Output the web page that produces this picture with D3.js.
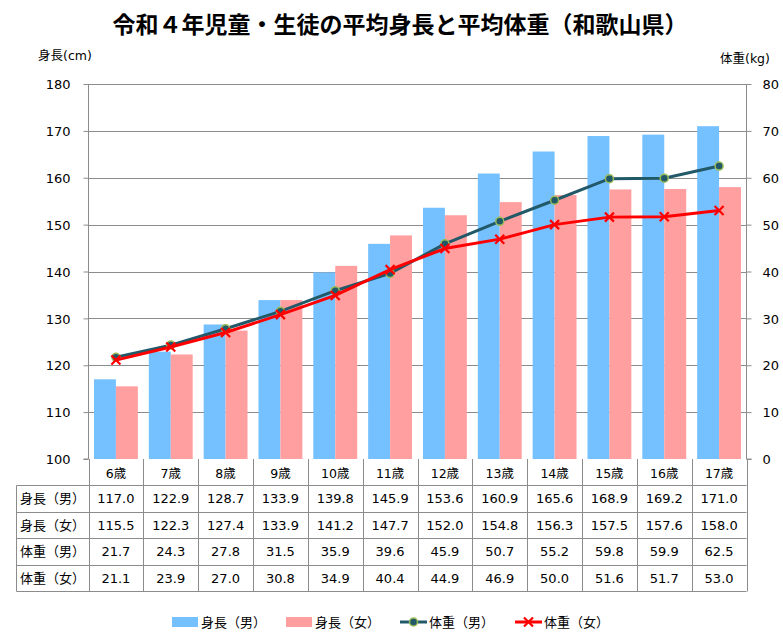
<!DOCTYPE html>
<html><head><meta charset="utf-8">
<script src="https://d3js.org/d3.v7.min.js"></script>
<style>
body{margin:0;background:#fff;}
svg{display:block;}
text{font-family:"DejaVu Sans","Noto Sans CJK JP",sans-serif;fill:#000;}
.jp{font-family:"Noto Sans CJK JP",sans-serif;}
</style></head><body>
<svg id="c" width="783" height="635"></svg>
<script>
const categories = ["6歳","7歳","8歳","9歳","10歳","11歳","12歳","13歳","14歳","15歳","16歳","17歳"];
const heightBoys  = [117.0,122.9,128.7,133.9,139.8,145.9,153.6,160.9,165.6,168.9,169.2,171.0];
const heightGirls = [115.5,122.3,127.4,133.9,141.2,147.7,152.0,154.8,156.3,157.5,157.6,158.0];
const weightBoys  = [21.7,24.3,27.8,31.5,35.9,39.6,45.9,50.7,55.2,59.8,59.9,62.5];
const weightGirls = [21.1,23.9,27.0,30.8,34.9,40.4,44.9,46.9,50.0,51.6,51.7,53.0];
const leftTicks = [100,110,120,130,140,150,160,170,180];
const rightTicks = [0,10,20,30,40,50,60,70,80];
const seriesNames = ["身長（男）","身長（女）","体重（男）","体重（女）"];
const title = "令和４年児童・生徒の平均身長と平均体重（和歌山県）";

const C = {blue:"#75C1FF", pink:"#FF9F9F", teal:"#215968", tealStroke:"#9BBB59", red:"#FF0000", grid:"#8C8C8C"};
const svg = d3.select("#c");
const L=88.5, R=746.5, T=84, B=459;

const x = d3.scaleBand().domain(categories).range([L,R]).paddingInner(0).paddingOuter(0);
const xs = d3.scaleBand().domain([0,1]).range([0,x.bandwidth()]).paddingInner(0).paddingOuter(0.25);
const yL = d3.scaleLinear().domain([100,180]).range([B,T]);
const yR = d3.scaleLinear().domain([0,80]).range([B,T]);

// title
svg.append("text").attr("class","jp").attr("x",400).attr("y",33).attr("text-anchor","middle")
  .style("font-size","23px").style("font-weight","bold").text(title);
svg.append("text").attr("x",38).attr("y",60).style("font-size","12.5px").text("身長(cm)");
svg.append("text").attr("x",720).attr("y",63).style("font-size","12.5px").text("体重(kg)");

// gridlines
svg.append("g").selectAll("line").data(leftTicks.slice(1)).join("line")
  .attr("x1",L).attr("x2",R).attr("y1",d=>Math.round(yL(d))+0.5).attr("y2",d=>Math.round(yL(d))+0.5)
  .attr("stroke",C.grid).attr("stroke-width",1);

// bars
const seriesBars=[heightBoys,heightGirls];
const barColors=[C.blue,C.pink];
seriesBars.forEach((s,i)=>{
  svg.append("g").selectAll("rect").data(s).join("rect")
    .attr("x",(d,j)=>x(categories[j])+xs(i)).attr("width",xs.bandwidth())
    .attr("y",d=>yL(d)).attr("height",d=>B-yL(d)).attr("fill",barColors[i]);
});

// axes
const axL = d3.axisLeft(yL).tickValues(leftTicks).tickSize(5).tickPadding(13).tickFormat(d3.format("d"));
const gL = svg.append("g").attr("transform",`translate(${L},0)`).call(axL);
const axR = d3.axisRight(yR).tickValues(rightTicks).tickSize(5).tickPadding(11).tickFormat(d3.format("d"));
const gR = svg.append("g").attr("transform",`translate(${R},0)`).call(axR);
[gL,gR].forEach(g=>{
  g.select(".domain").attr("stroke",C.grid);
  g.selectAll(".tick line").attr("stroke",C.grid);
  g.selectAll(".tick text").style("font-size","13px").attr("font-family",null);
});
gL.select(".domain").attr("d",`M-5,${B}H0V${T}`);
gR.select(".domain").attr("d",`M5,${B}H0V${T}`);
gL.selectAll(".tick text").attr("dy","0.36em");
gR.selectAll(".tick text").attr("dy","0.36em");

// lines
const lineGen = s => d3.line().x((d,j)=>x(categories[j])+x.bandwidth()/2).y(d=>yR(d))(s);
svg.append("path").attr("d",lineGen(weightBoys)).attr("fill","none").attr("stroke",C.teal).attr("stroke-width",3);
svg.append("g").selectAll("circle").data(weightBoys).join("circle")
  .attr("cx",(d,j)=>x(categories[j])+x.bandwidth()/2).attr("cy",d=>yR(d)).attr("r",4)
  .attr("fill",C.teal).attr("stroke",C.tealStroke).attr("stroke-width",1.5);
svg.append("path").attr("d",lineGen(weightGirls)).attr("fill","none").attr("stroke",C.red).attr("stroke-width",3);
svg.append("g").selectAll("path").data(weightGirls).join("path")
  .attr("transform",(d,j)=>`translate(${x(categories[j])+x.bandwidth()/2},${yR(d)})`)
  .attr("d","M-4.5,-4.5L4.5,4.5M-4.5,4.5L4.5,-4.5").attr("stroke",C.red).attr("stroke-width",2.2);

// data table
const rowTop=[459,485,511.5,538.3,565,591];
const tbl = svg.append("g");
const tblLeft=16.5;
rowTop.slice(1).forEach(yv=>{
  tbl.append("line").attr("x1",tblLeft).attr("x2",R).attr("y1",Math.round(yv)+0.5).attr("y2",Math.round(yv)+0.5).attr("stroke",C.grid);
});
const colEdges = categories.map(c=>x(c)).concat([R]);
colEdges.forEach(xv=>{
  tbl.append("line").attr("x1",Math.round(xv)+0.5).attr("x2",Math.round(xv)+0.5).attr("y1",B).attr("y2",591.5).attr("stroke",C.grid);
});
tbl.append("line").attr("x1",tblLeft).attr("x2",tblLeft).attr("y1",485.5).attr("y2",591.5).attr("stroke",C.grid);
tbl.selectAll("text.h").data(categories).join("text").attr("class","h")
  .attr("x",d=>x(d)+x.bandwidth()/2).attr("y",(rowTop[0]+rowTop[1])/2+1).attr("dy","0.36em")
  .attr("text-anchor","middle").style("font-size","12.5px").text(d=>d);
const rows=[heightBoys,heightGirls,weightBoys,weightGirls];
rows.forEach((s,i)=>{
  const yc=(rowTop[i+1]+rowTop[i+2])/2;
  tbl.append("text").attr("x",20).attr("y",yc).attr("dy","0.36em").style("font-size","13px").text(seriesNames[i]);
  tbl.append("g").selectAll("text").data(s).join("text")
    .attr("x",(d,j)=>x(categories[j])+x.bandwidth()/2).attr("y",yc).attr("dy","0.36em")
    .attr("text-anchor","middle").style("font-size","13px").text(d=>d.toFixed(1));
});

// legend
const lg = svg.append("g");
const legendX=[172,286,400,515];
const ly=622;
[0,1].forEach(i=>{
  lg.append("rect").attr("x",legendX[i]).attr("y",ly-5).attr("width",26).attr("height",10).attr("fill",barColors[i]);
});
lg.append("line").attr("x1",legendX[2]).attr("x2",legendX[2]+27).attr("y1",ly).attr("y2",ly).attr("stroke",C.teal).attr("stroke-width",3);
lg.append("circle").attr("cx",legendX[2]+13.5).attr("cy",ly).attr("r",4).attr("fill",C.teal).attr("stroke",C.tealStroke).attr("stroke-width",1.5);
lg.append("line").attr("x1",legendX[3]).attr("x2",legendX[3]+27).attr("y1",ly).attr("y2",ly).attr("stroke",C.red).attr("stroke-width",3);
lg.append("path").attr("transform",`translate(${legendX[3]+13.5},${ly})`).attr("d","M-4.5,-4.5L4.5,4.5M-4.5,4.5L4.5,-4.5").attr("stroke",C.red).attr("stroke-width",2.2);
seriesNames.forEach((n,i)=>{
  lg.append("text").attr("x",legendX[i]+29).attr("y",ly).attr("dy","0.36em").style("font-size","13px").text(n);
});
</script>
</body></html>
